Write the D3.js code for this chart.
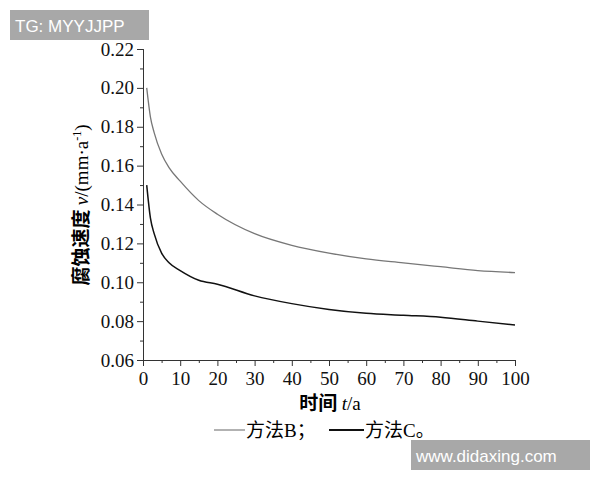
<!DOCTYPE html><html><head><meta charset="utf-8"><script src="https://cdn.jsdelivr.net/npm/d3@7"></script>
<style>body{margin:0;background:#fff}</style></head><body>
<svg id="c" width="600" height="480" style="font-family:'Liberation Serif','Noto Sans CJK SC',serif"></svg>
<script>
const tB=[1,2,3,5,7,10,15,20,30,40,50,60,70,80,90,100];
const vB=[0.200,0.185,0.177,0.166,0.159,0.152,0.142,0.135,0.125,0.119,0.115,0.112,0.110,0.108,0.106,0.105];
const tC=[1,2,3,5,7,10,15,20,30,40,50,60,70,80,90,100];
const vC=[0.150,0.133,0.125,0.115,0.110,0.106,0.101,0.099,0.093,0.089,0.086,0.084,0.083,0.082,0.080,0.078];
const xTicks=[0,10,20,30,40,50,60,70,80,90,100];
const yTicks=[0.06,0.08,0.10,0.12,0.14,0.16,0.18,0.20,0.22];
const svg=d3.select("#c");
const x=d3.scaleLinear().domain([0,100]).range([143,515]);
const y=d3.scaleLinear().domain([0.06,0.22]).range([360,49]);
const gx=svg.append("g").attr("transform","translate(0,360)");
gx.call(d3.axisBottom(x).tickValues(xTicks).tickFormat(d3.format("d")).tickSize(6));
gx.append("g").call(d3.axisBottom(x).tickValues(d3.range(5,100,10)).tickFormat("").tickSize(3));
const gy=svg.append("g").attr("transform","translate(143,0)");
gy.call(d3.axisLeft(y).tickValues(yTicks).tickFormat(d3.format(".2f")).tickSize(6));
gy.append("g").call(d3.axisLeft(y).tickValues(d3.range(0.07,0.22,0.02)).tickFormat("").tickSize(3));
svg.selectAll(".tick line").attr("stroke","#333");
svg.selectAll(".domain").attr("stroke","#333");
svg.selectAll("g").attr("font-family",null).attr("font-size",null);
svg.selectAll(".tick text").style("font-size","19px").style("font-family","Liberation Serif").attr("fill","#111");
gx.selectAll(".tick text").attr("dy","0.85em");
const line=d3.line().x(d=>x(d[0])).y(d=>y(d[1])).curve(d3.curveMonotoneX);
svg.append("path").datum(tB.map((t,i)=>[t,vB[i]])).attr("d",line).attr("fill","none").attr("stroke","#777").attr("stroke-width",1.3);
svg.append("path").datum(tC.map((t,i)=>[t,vC[i]])).attr("d",line).attr("fill","none").attr("stroke","#111").attr("stroke-width",1.5);
svg.append("text").attr("x",330).attr("y",410).attr("text-anchor","middle").style("font-size","19px")
 .html('<tspan style="font-family:Noto Sans CJK SC" font-weight="bold">时间 </tspan><tspan font-style="italic">t</tspan>/a');
svg.append("text").attr("transform","translate(88,205) rotate(-90)").attr("text-anchor","middle").style("font-size","19px")
 .html('<tspan style="font-family:Noto Sans CJK SC" font-weight="bold">腐蚀速度 </tspan><tspan font-style="italic">v</tspan>/(mm·a<tspan baseline-shift="super" font-size="12">-1</tspan>)');
svg.append("line").attr("x1",214).attr("x2",245).attr("y1",430).attr("y2",430).attr("stroke","#999").attr("stroke-width",1.5);
svg.append("text").attr("x",246).attr("y",437).style("font-size","19px").html('<tspan style="font-family:Noto Sans CJK SC">方法</tspan>B；');
svg.append("line").attr("x1",329).attr("x2",364).attr("y1",430).attr("y2",430).attr("stroke","#111").attr("stroke-width",2);
svg.append("text").attr("x",365).attr("y",437).style("font-size","19px").html('<tspan style="font-family:Noto Sans CJK SC">方法</tspan>C。');
svg.append("rect").attr("x",10).attr("y",10).attr("width",139).attr("height",30).attr("fill","#a8a8a8");
svg.append("text").attr("x",15).attr("y",32).style("font-size","17px").attr("fill","#fff").style("font-family","Liberation Sans").text("TG: MYYJJPP");
svg.append("rect").attr("x",411).attr("y",440).attr("width",179).attr("height",30).attr("fill","#a8a8a8");
svg.append("text").attr("x",416).attr("y",462).style("font-size","17px").attr("fill","#fff").style("font-family","Liberation Sans").text("www.didaxing.com");
</script></body></html>
